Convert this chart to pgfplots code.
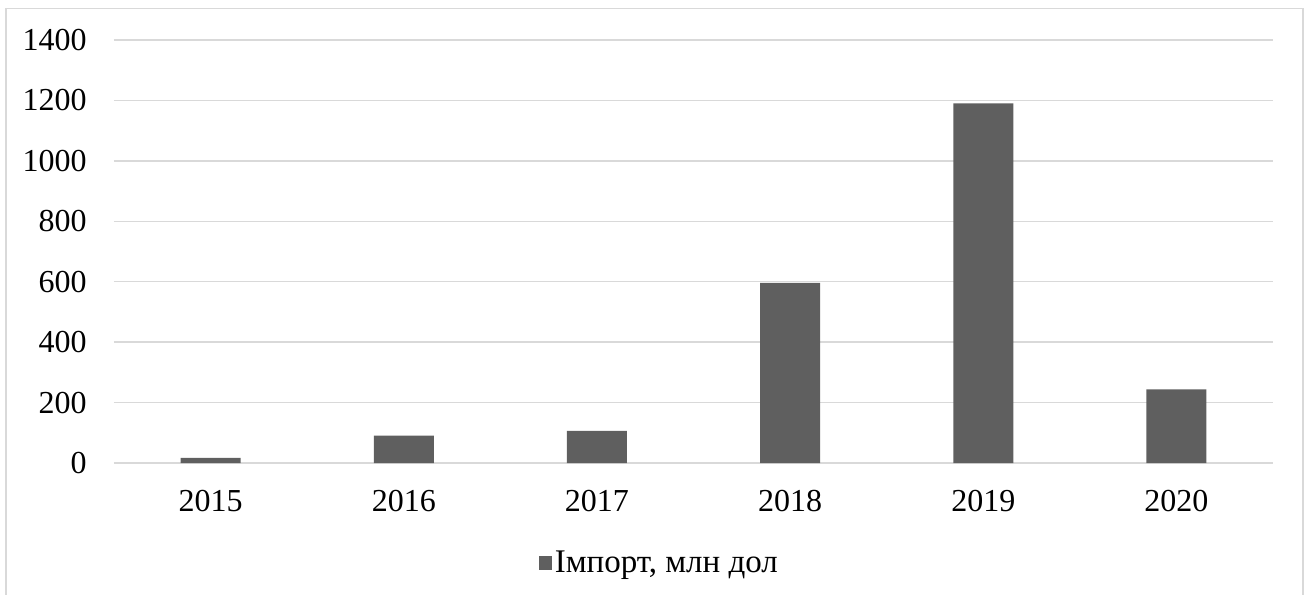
\documentclass[border=0pt]{standalone}
\usepackage{fontspec}
\setmainfont{Liberation Serif}
\usepackage{pgfplots}
\pgfplotsset{compat=1.18}
\definecolor{barc}{HTML}{5F5F5F}
\definecolor{gridc}{HTML}{D9D9D9}
\definecolor{framec}{HTML}{D9D9D9}

\begin{document}
\begin{tikzpicture}
\useasboundingbox (-57bp,-66bp) rectangle (598bp,231.5bp);
\draw[framec, line width=0.9bp] (-54bp,-66bp) -- (-54bp,227.25bp) -- (594.5bp,227.25bp) -- (594.5bp,-66bp);
\begin{axis}[
  at={(0,0)}, anchor=south west,
  scale only axis,
  width=579.5bp, height=211.5bp,
  xmin=-0.5, xmax=5.5,
  ymin=0, ymax=1400,
  ytick={0,200,...,1400},
  xtick={0,...,5},
  xticklabels={2015,2016,2017,2018,2019,2020},
  ymajorgrids,
  grid style={gridc, line width=0.75bp},
  axis line style={draw=none},
  tick style={draw=none},
  /pgf/number format/assume math mode=true,
  /pgf/number format/1000 sep={},
  ticklabel style={font=\fontsize{16bp}{19bp}\selectfont, inner sep=0pt},
  yticklabel style={anchor=east, xshift=-13.5bp},
  xticklabel style={anchor=north, yshift=-13.5bp},
  legend style={at={(0.471,-0.236)}, anchor=center, draw=none, fill=none,
    font=\fontsize{16.5bp}{19bp}\selectfont, inner sep=0pt,
    nodes={inner sep=1.5bp}},
  legend image code/.code={\fill[barc] (-1bp,-3.5bp) rectangle (5.5bp,3.5bp);},
]
\addplot[ybar, bar width=30bp, fill=barc, draw=none]
coordinates {(0,17) (1,91) (2,106) (3,596) (4,1190) (5,244)};
\addlegendentry{Імпорт, млн дол}
\end{axis}
\end{tikzpicture}
\end{document}
